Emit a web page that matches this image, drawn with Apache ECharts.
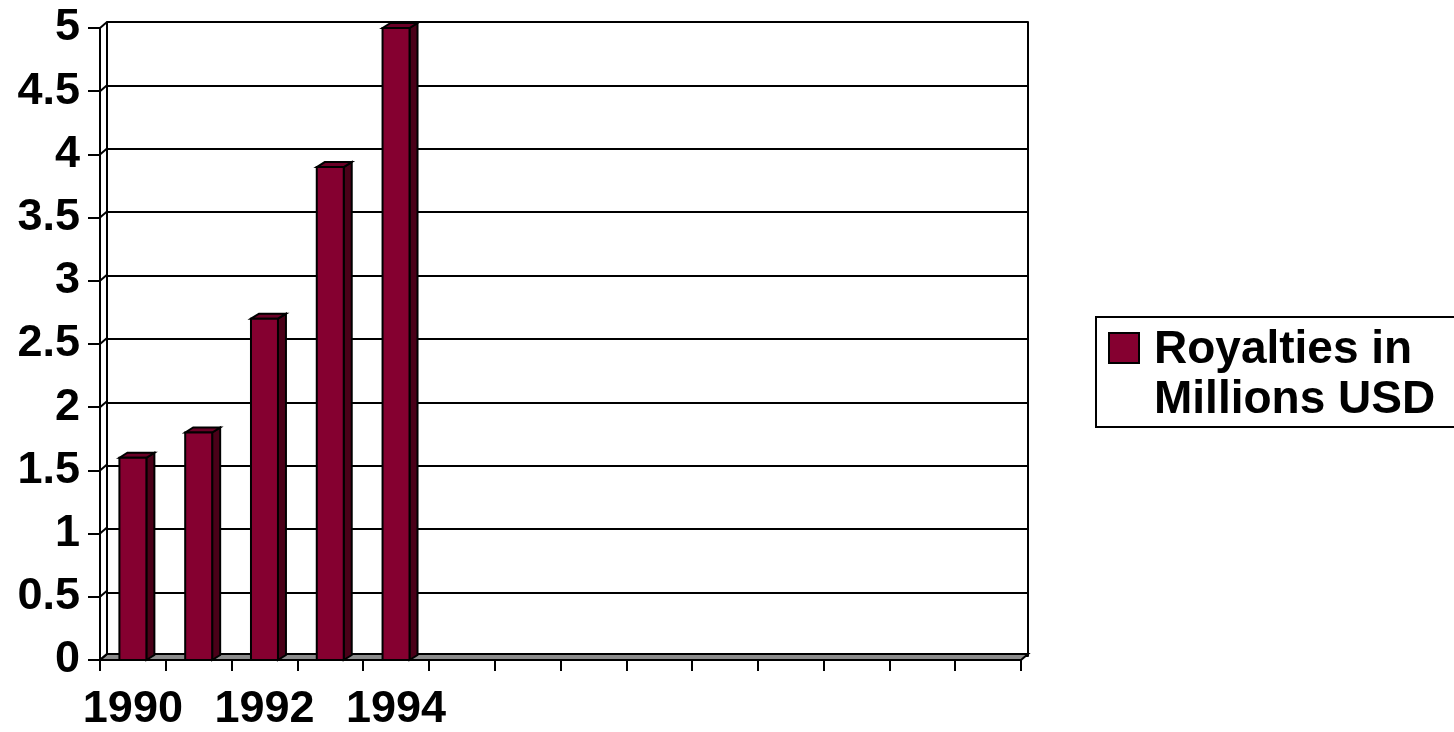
<!DOCTYPE html>
<html>
<head>
<meta charset="utf-8">
<title>Royalties</title>
<script src="https://cdn.jsdelivr.net/npm/echarts@6/dist/echarts.min.js"></script>
<style>
    html, body { margin: 0; padding: 0; background: #fff; }
    #chart { width: 1454px; height: 732px; }
</style>
</head>
<body>
<div id="chart"></div>
<script>
// data
var years = ['1990', '1991', '1992', '1993', '1994', '', '', '', '', '', '', '', '', ''];
var royalties = [1.6, 1.8, 2.7, 3.9, 5.0];
var yTicks = [0, 0.5, 1, 1.5, 2, 2.5, 3, 3.5, 4, 4.5, 5];
var legendLines = ['Royalties in', 'Millions USD'];

// styles
var FONT = '"Liberation Sans", Arial, sans-serif';
var FRONT = '#850030';
var SIDE = '#4a0018';
var TOP = '#6a0026';
var WALL_DX = 7, WALL_DY = -6;   // back wall offset
var BAR_DX = 8, BAR_DY = -5;     // bar depth

var chart = echarts.init(document.getElementById('chart'));

function renderFrame(params, api) {
    var v = api.value(0);
    var cs = params.coordSys;
    var y = api.coord([0, v])[1];
    var x = cs.x;
    var children = [{
        type: 'line',
        shape: { x1: x, y1: y, x2: x + WALL_DX, y2: y + WALL_DY },
        style: { stroke: '#000', lineWidth: 2 }
    }];
    if (v === 0) {
        children.unshift({
            type: 'polygon',
            shape: {
                points: [[x, y], [x + cs.width, y], [x + cs.width + WALL_DX, y + WALL_DY], [x + WALL_DX, y + WALL_DY]]
            },
            style: { fill: '#8c8c8c', stroke: '#000', lineWidth: 2 }
        });
    }
    return { type: 'group', children: children };
}

function renderBar(params, api) {
    var i = api.value(0), v = api.value(1);
    var top = api.coord([i, v]);
    var base = api.coord([i, 0]);
    var w = api.size([1, 0])[0] * 0.41;
    var x0 = top[0] - w / 2, x1 = top[0] + w / 2;
    var edge = { stroke: '#000', lineWidth: 2, lineJoin: 'miter' };
    return {
        type: 'group',
        children: [
            {
                type: 'polygon',
                shape: { points: [[x1, top[1]], [x1 + BAR_DX, top[1] + BAR_DY], [x1 + BAR_DX, base[1] + BAR_DY], [x1, base[1]]] },
                style: Object.assign({ fill: SIDE }, edge)
            },
            {
                type: 'polygon',
                shape: { points: [[x0, top[1]], [x0 + BAR_DX, top[1] + BAR_DY], [x1 + BAR_DX, top[1] + BAR_DY], [x1, top[1]]] },
                style: Object.assign({ fill: TOP }, edge)
            },
            {
                type: 'rect',
                shape: { x: x0, y: top[1], width: w, height: base[1] - top[1] },
                style: Object.assign({ fill: FRONT }, edge)
            }
        ]
    };
}

var option = {
    animation: false,
    backgroundColor: '#fff',
    grid: [
        { left: 100, right: 433, top: 28, bottom: 70 },
        { left: 100 + WALL_DX, right: 433 - WALL_DX, top: 28 + WALL_DY, bottom: 70 - WALL_DY }
    ],
    xAxis: [
        {
            type: 'category', gridIndex: 0, data: years,
            axisLine: { show: true, lineStyle: { color: '#000', width: 2 } },
            axisTick: { show: true, interval: 0, length: 11, lineStyle: { color: '#000', width: 2 } },
            axisLabel: { interval: 1, margin: 27, color: '#000', fontSize: 45, fontWeight: 'bold', fontFamily: FONT },
            splitLine: { show: false }
        },
        {
            type: 'category', gridIndex: 1, data: years,
            axisLine: { show: false }, axisTick: { show: false }, axisLabel: { show: false }, splitLine: { show: false }
        }
    ],
    yAxis: [
        {
            type: 'value', gridIndex: 0, min: 0, max: 5, interval: 0.5,
            axisLine: { show: true, lineStyle: { color: '#000', width: 2 } },
            axisTick: { show: true, length: 12, lineStyle: { color: '#000', width: 2 } },
            axisLabel: { margin: 20, color: '#000', fontSize: 45, fontWeight: 'bold', fontFamily: FONT },
            splitLine: { show: false }
        },
        {
            type: 'value', gridIndex: 1, min: 0, max: 5, interval: 0.5,
            axisLine: { show: true, lineStyle: { color: '#000', width: 2 } },
            axisTick: { show: false }, axisLabel: { show: false },
            splitLine: { show: true, lineStyle: { color: '#000', width: 2 } }
        },
        {
            type: 'value', gridIndex: 1, position: 'right', min: 0, max: 5, interval: 0.5,
            axisLine: { show: true, lineStyle: { color: '#000', width: 2 } },
            axisTick: { show: false }, axisLabel: { show: false }, splitLine: { show: false }
        }
    ],
    series: [
        {
            name: 'frame', type: 'custom', xAxisIndex: 0, yAxisIndex: 0, z: 1,
            silent: true, renderItem: renderFrame,
            data: yTicks.map(function (v) { return [v]; }),
            encode: { y: 0 }
        },
        {
            name: legendLines.join(' '), type: 'custom', xAxisIndex: 0, yAxisIndex: 0, z: 3,
            renderItem: renderBar,
            data: royalties.map(function (v, i) { return [i, v]; }),
            encode: { x: 0, y: 1 }
        }
    ],
    graphic: [
        {
            type: 'group', left: 1095, top: 316,
            children: [
                { type: 'rect', shape: { x: 0, y: 0, width: 372, height: 110 }, style: { fill: '#fff', stroke: '#000', lineWidth: 2 } },
                { type: 'rect', shape: { x: 13, y: 16, width: 30, height: 30 }, style: { fill: FRONT, stroke: '#000', lineWidth: 2 } },
                {
                    type: 'text', x: 58, y: 8,
                    style: { text: legendLines.join('\n'), font: 'bold 46px ' + FONT, lineHeight: 50, fill: '#000' }
                }
            ]
        }
    ]
};

chart.setOption(option);
</script>
</body>
</html>
